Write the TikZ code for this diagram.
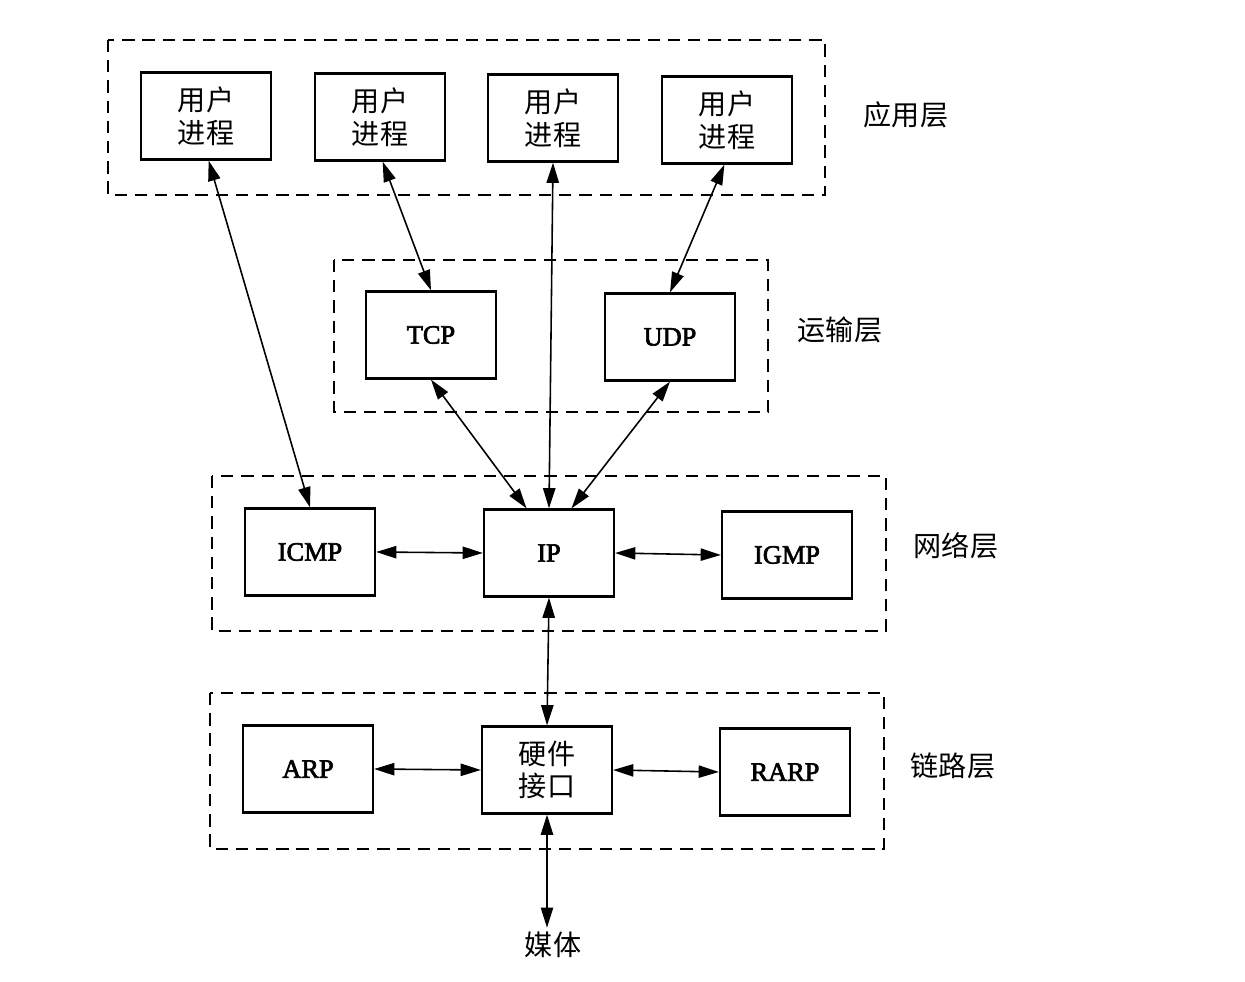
\documentclass[tikz,border=0pt]{standalone}
\usepackage{fontspec}
\setmainfont{Liberation Serif}
\newfontfamily\heavy[BoldFont={Liberation Serif},BoldFeatures={FakeBold=2.5}]{Liberation Serif}
\newfontfamily\cjk{Noto Sans CJK SC}
\usetikzlibrary{arrows.meta,calc}
\begin{document}
\begin{tikzpicture}[x=0.02cm,y=-0.02cm,
  box/.style={draw,line width=1.3pt,minimum width=130*0.02cm,minimum height=87*0.02cm,inner sep=0pt,font=\heavy\bfseries\fontsize{15}{18}\selectfont,align=center},
  cjkbox/.style={box,font=\cjk\fontsize{16}{18.5}\selectfont},
  layer/.style={draw,dashed,dash pattern=on 7pt off 4.5pt,line width=1pt},
  lbl/.style={font=\cjk\fontsize{16}{19}\selectfont,inner sep=0pt},
  conn/.style={line width=0.9pt,{Triangle[length=11.5pt,width=7pt]}-{Triangle[length=11.5pt,width=7pt]}}
]
\useasboundingbox (0,0) rectangle (1245,982);
% layers
\draw[layer] (108,40) rectangle (825,195);
\draw[layer] (334,260) rectangle (768,412);
\draw[layer] (212,476) rectangle (886,631);
\draw[layer] (210,693) rectangle (884,849);
% layer labels
\node[lbl] (la) at (906,115) {应用层};
\node[lbl] (lt) at (840,330) {运输层};
\node[lbl] (ln) at (956,546) {网络层};
\node[lbl] (ll) at (953,766) {链路层};
% application
\node[cjkbox] (u1) at (206,116) {用户\\进程};
\node[cjkbox] (u2) at (380,117) {用户\\进程};
\node[cjkbox] (u3) at (553,118) {用户\\进程};
\node[cjkbox] (u4) at (727,120) {用户\\进程};
% transport
\node[box] (tcp) at (431,335) {TCP};
\node[box] (udp) at (670,337) {UDP};
% network
\node[box] (icmp) at (310,552) {ICMP};
\node[box] (ip) at (549,553) {IP};
\node[box] (igmp) at (787,555) {IGMP};
% link
\node[box] (arp) at (308,769) {ARP};
\node[cjkbox] (hw) at (547,770) {硬件\\接口};
\node[box] (rarp) at (785,772) {RARP};
% media
\node[lbl] (media) at (553,945) {媒体};
\coordinate (mtop) at ($(hw.south)!1!(hw.south |- media.north)+(0,-4)$);
% connectors
\draw[conn] ($(u1.south west)!0.52!(u1.south east)$) -- ($(icmp.north west)!0.5!(icmp.north east)$);
\draw[conn] ($(u2.south west)!0.52!(u2.south east)$) -- ($(tcp.north west)!0.5!(tcp.north east)$);
\draw[conn] (u3.south) -- (ip.north);
\draw[conn] ($(u4.south west)!0.48!(u4.south east)$) -- ($(udp.north west)!0.5!(udp.north east)$);
\draw[conn] (tcp.south) -- ($(ip.north west)!0.33!(ip.north east)$);
\draw[conn] (udp.south) -- ($(ip.north west)!0.67!(ip.north east)$);
\draw[conn] (icmp.east) -- (ip.west);
\draw[conn] (ip.east) -- (igmp.west);
\draw[conn] (ip.south) -- (hw.north);
\draw[conn] (arp.east) -- (hw.west);
\draw[conn] (hw.east) -- (rarp.west);
\draw[conn] (hw.south) -- (mtop);
\end{tikzpicture}
\end{document}
